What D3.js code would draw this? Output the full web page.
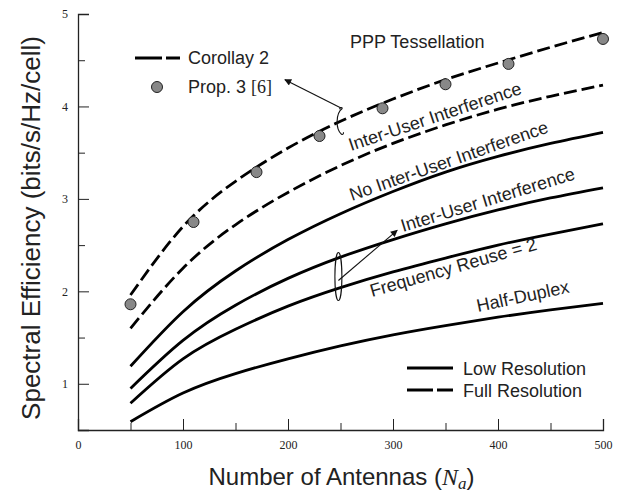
<!DOCTYPE html>
<html>
<head>
<meta charset="utf-8">
<script src="https://cdn.jsdelivr.net/npm/d3@7"></script>
<style>
  body { margin: 0; background: white; }
  svg { display: block; }
</style>
</head>
<body>
<div id="chart"></div>
<script>
// Data
const antennas = [50, 100, 150, 200, 250, 300, 350, 400, 450, 500];

const corollaryPPP   = [1.96, 2.70, 3.19, 3.55, 3.84, 4.08, 4.29, 4.47, 4.64, 4.80];
const fullInterUser  = [1.60, 2.25, 2.72, 3.07, 3.36, 3.60, 3.80, 3.97, 4.11, 4.23];
const lowNoInterUser = [1.19, 1.78, 2.22, 2.56, 2.84, 3.08, 3.29, 3.46, 3.60, 3.72];
const lowInterUser   = [0.95, 1.47, 1.85, 2.14, 2.37, 2.56, 2.73, 2.88, 3.01, 3.12];
const lowFreqReuse   = [0.79, 1.27, 1.59, 1.84, 2.04, 2.21, 2.36, 2.50, 2.62, 2.73];
const lowHalfDuplex  = [0.59, 0.90, 1.11, 1.27, 1.41, 1.53, 1.63, 1.72, 1.80, 1.87];

const prop3X = [50, 110, 170, 230, 290, 350, 410, 500];
const prop3Y = [1.86, 2.75, 3.29, 3.68, 3.98, 4.24, 4.46, 4.73];

const xTicks = [0, 100, 200, 300, 400, 500];
const xMinor = [50, 150, 250, 350, 450];
const yTicks = [1, 2, 3, 4, 5];
const yMinor = [1.5, 2.5, 3.5, 4.5];

const config = {
  width  : 629,
  height : 495,
  left   : 78,
  right  : 603,
  top    : 14,
  bottom : 430,
  sans   : "'Liberation Sans', Arial, sans-serif",
  serif  : "'Liberation Serif', 'DejaVu Serif', serif",
  dash   : "13,5",
  lw     : 2.8
};

const svg = d3.select("#chart")
  .append("svg")
    .attr("width", config.width)
    .attr("height", config.height);

const x = d3.scaleLinear().domain([0, 500]).range([config.left, config.right]);
const y = d3.scaleLinear().domain([0.5, 5]).range([config.bottom, config.top]);

// arrow marker
svg.append("defs").append("marker")
    .attr("id", "arrow")
    .attr("viewBox", "0 0 10 10")
    .attr("refX", 9).attr("refY", 5)
    .attr("markerWidth", 9).attr("markerHeight", 7)
    .attr("markerUnits", "userSpaceOnUse")
    .attr("orient", "auto")
  .append("path")
    .attr("d", "M0,0 L10,5 L0,10 z")
    .attr("fill", "#111");

// Axes
const xAxis = svg.append("g").attr("transform", "translate(0," + config.bottom + ")");
xAxis.call(d3.axisBottom(x).tickValues(xTicks).tickSize(-11).tickPadding(10).tickFormat(d3.format("d")));
xAxis.append("g").call(d3.axisBottom(x).tickValues(xMinor).tickSize(-7).tickFormat(""));

const yAxis = svg.append("g").attr("transform", "translate(" + config.left + ",0)");
yAxis.call(d3.axisLeft(y).tickValues(yTicks).tickSize(-11).tickPadding(10).tickFormat(d3.format("d")));
yAxis.append("g").call(d3.axisLeft(y).tickValues(yMinor).tickSize(-7).tickFormat(""));

svg.selectAll(".domain").attr("stroke", "#222").attr("stroke-width", 1.3);
svg.selectAll("g > g > .domain").remove();
svg.selectAll(".tick line").attr("stroke", "#222").attr("stroke-width", 1);
svg.selectAll(".tick text")
  .style("font-family", config.serif)
  .style("font-size", "12px")
  .attr("fill", "#222");

// Curves
const line = d3.line()
  .x(function(d) { return x(d[0]); })
  .y(function(d) { return y(d[1]); })
  .curve(d3.curveNatural);

const series = [
  { values: corollaryPPP,   dashed: true },
  { values: fullInterUser,  dashed: true },
  { values: lowNoInterUser, dashed: false },
  { values: lowInterUser,   dashed: false },
  { values: lowFreqReuse,   dashed: false },
  { values: lowHalfDuplex,  dashed: false }
];

svg.append("g").selectAll("path")
  .data(series)
  .enter()
    .append("path")
    .attr("d", function(s) { return line(antennas.map(function(a, i) { return [a, s.values[i]]; })); })
    .attr("fill", "none")
    .attr("stroke", "#000")
    .attr("stroke-width", config.lw)
    .attr("stroke-dasharray", function(s) { return s.dashed ? config.dash : null; });

// Prop. 3 points
svg.append("g").selectAll("circle")
  .data(prop3X)
  .enter()
    .append("circle")
    .attr("cx", function(d) { return x(d); })
    .attr("cy", function(d, i) { return y(prop3Y[i]); })
    .attr("r", 5.5)
    .attr("fill", "#888")
    .attr("stroke", "#222")
    .attr("stroke-width", 1);

// Curve labels
const labels = [
  { text: "PPP Tessellation",              px: 350, py: 48,  angle: 0 },
  { text: "Inter-User Interference",       px: 351, py: 151, angle: -18.5 },
  { text: "No Inter-User Interference",    px: 352, py: 201, angle: -19.2 },
  { text: "Inter-User Interference",       px: 403, py: 232, angle: -17 },
  { text: "Frequency Reuse = 2",           px: 372, py: 297, angle: -16 },
  { text: "Half-Duplex",                   px: 478, py: 312, angle: -12 }
];

svg.append("g").selectAll("text")
  .data(labels)
  .enter()
    .append("text")
    .attr("transform", function(d) { return "translate(" + d.px + "," + d.py + ") rotate(" + d.angle + ")"; })
    .style("font-family", config.sans)
    .style("font-size", "18px")
    .attr("fill", "#222")
    .text(function(d) { return d.text; });

// Annotation: brace on the top curve and arrow to legend
const brace1 = { x: 250, y: 3.84, h: 13 };
const bx1 = x(brace1.x), by1 = y(brace1.y);
svg.append("path")
  .attr("d", "M" + (bx1 + 2) + "," + (by1 - brace1.h) +
             " C" + (bx1 - 5) + "," + (by1 - 8) + " " + (bx1 - 5) + "," + (by1 + 8) + " " + (bx1 + 1) + "," + (by1 + brace1.h) +
             " M" + (bx1 + 2) + "," + (by1 - brace1.h) + " q-2,-2 -3,1" +
             " M" + (bx1 + 1) + "," + (by1 + brace1.h) + " q2,1 2,-2")
  .attr("fill", "none").attr("stroke", "#111").attr("stroke-width", 1.1);

svg.append("line")
  .attr("x1", bx1 + 1).attr("y1", by1 - brace1.h)
  .attr("x2", x(197)).attr("y2", y(4.29))
  .attr("stroke", "#111").attr("stroke-width", 1.1)
  .attr("marker-end", "url(#arrow)");

// Annotation: ellipse around two low-res curves
const brace2 = { x: 248, y: 2.16 };
svg.append("ellipse")
  .attr("cx", x(brace2.x)).attr("cy", y(brace2.y))
  .attr("rx", 3.5).attr("ry", 24)
  .attr("fill", "none").attr("stroke", "#111").attr("stroke-width", 1.1);

svg.append("line")
  .attr("x1", x(brace2.x)).attr("y1", y(brace2.y) + 4)
  .attr("x2", x(304)).attr("y2", y(2.66))
  .attr("stroke", "#111").attr("stroke-width", 1.1)
  .attr("marker-end", "url(#arrow)");

// Legend top-left
const legTop = svg.append("g");
legTop.append("line")
  .attr("x1", 135).attr("x2", 180).attr("y1", 58).attr("y2", 58)
  .attr("stroke", "#000").attr("stroke-width", config.lw)
  .attr("stroke-dasharray", "27,4");
legTop.append("text")
  .attr("x", 188).attr("y", 64)
  .style("font-family", config.sans).style("font-size", "18px").attr("fill", "#222")
  .text("Corollay 2");
legTop.append("circle")
  .attr("cx", 157).attr("cy", 87).attr("r", 5.5)
  .attr("fill", "#888").attr("stroke", "#222").attr("stroke-width", 1);
const propText = legTop.append("text")
  .attr("x", 188).attr("y", 93)
  .style("font-family", config.sans).style("font-size", "18px").attr("fill", "#222");
propText.append("tspan").text("Prop. 3 ");
propText.append("tspan").style("font-family", config.serif).text("[6]");

// Legend bottom-right
const legBot = svg.append("g");
legBot.append("line")
  .attr("x1", 407).attr("x2", 453).attr("y1", 368).attr("y2", 368)
  .attr("stroke", "#000").attr("stroke-width", config.lw);
legBot.append("text")
  .attr("x", 463).attr("y", 375)
  .style("font-family", config.sans).style("font-size", "18px").attr("fill", "#222")
  .text("Low Resolution");
legBot.append("line")
  .attr("x1", 407).attr("x2", 453).attr("y1", 390).attr("y2", 390)
  .attr("stroke", "#000").attr("stroke-width", config.lw)
  .attr("stroke-dasharray", "26,4");
legBot.append("text")
  .attr("x", 463).attr("y", 397)
  .style("font-family", config.sans).style("font-size", "18px").attr("fill", "#222")
  .text("Full Resolution");

// Axis titles
const xTitle = svg.append("text")
  .attr("x", (config.left + config.right) / 2 + 1).attr("y", 485)
  .attr("text-anchor", "middle")
  .style("font-family", config.sans).style("font-size", "24px").attr("fill", "#222");
xTitle.append("tspan").text("Number of Antennas (");
xTitle.append("tspan").style("font-family", config.serif).style("font-style", "italic").text("N");
xTitle.append("tspan").style("font-family", config.serif).style("font-style", "italic")
  .style("font-size", "17px").attr("dy", 4).text("a");
xTitle.append("tspan").attr("dy", -4).text(")");

svg.append("text")
  .attr("transform", "translate(40," + ((config.top + config.bottom) / 2 + 6) + ") rotate(-90)")
  .attr("text-anchor", "middle")
  .style("font-family", config.sans).style("font-size", "26px").attr("fill", "#222")
  .text("Spectral Efficiency (bits/s/Hz/cell)");
</script>
</body>
</html>
